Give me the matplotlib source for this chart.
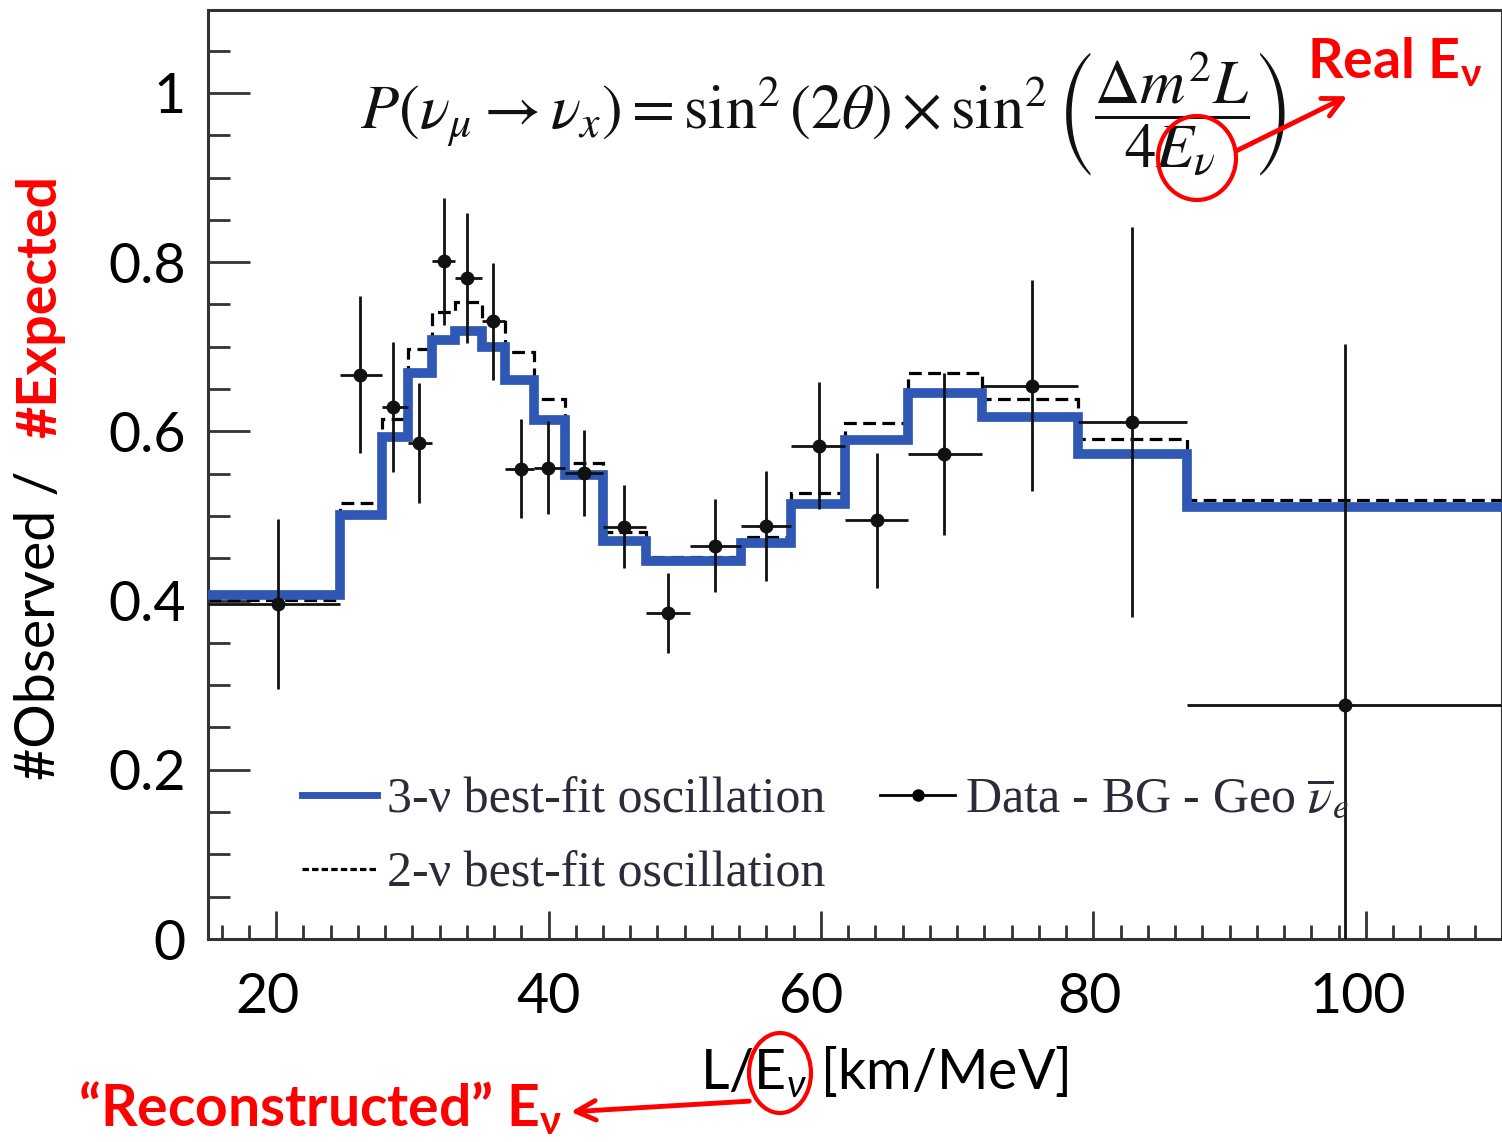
import matplotlib
matplotlib.use("Agg")
import numpy as np
import matplotlib.pyplot as plt
import matplotlib.transforms as mtransforms
from matplotlib.lines import Line2D
from matplotlib.patches import Ellipse

plt.rcParams['mathtext.fontset'] = 'custom'
plt.rcParams['mathtext.rm'] = 'Lato'
plt.rcParams['mathtext.it'] = 'Lato:italic'
plt.rcParams['mathtext.bf'] = 'Lato:bold'

# L/E binning (km/MeV)
bin_edges = [15, 24.7, 27.8, 29.7, 31.45, 33.1, 35.1, 36.8, 38.9, 41.2, 44.0,
             47.15, 50.4, 54.1, 57.8, 61.75, 66.4, 71.8, 78.9, 86.85, 110.15]

# best-fit oscillation expectations per bin
fit_3nu = [0.407, 0.501, 0.593, 0.669, 0.708, 0.719, 0.700, 0.661, 0.613, 0.548,
           0.470, 0.447, 0.447, 0.468, 0.514, 0.590, 0.645, 0.617, 0.573, 0.510]
fit_2nu = [0.401, 0.515, 0.615, 0.697, 0.741, 0.753, 0.732, 0.694, 0.638, 0.563,
           0.481, 0.452, 0.452, 0.475, 0.527, 0.610, 0.669, 0.638, 0.591, 0.519]

# data - BG - geo antineutrinos
data_x = [20.15, 26.16, 28.58, 30.49, 32.33, 34.01, 35.92, 37.97, 39.96, 42.60,
          45.53, 48.76, 52.21, 55.95, 59.84, 64.09, 69.01, 75.47, 82.80, 98.50]
data_y = [0.396, 0.667, 0.629, 0.586, 0.801, 0.781, 0.730, 0.556, 0.557, 0.551,
          0.487, 0.385, 0.465, 0.488, 0.583, 0.495, 0.573, 0.654, 0.611, 0.277]
data_err = [0.100, 0.093, 0.077, 0.071, 0.075, 0.077, 0.069, 0.059, 0.055, 0.051,
            0.049, 0.047, 0.055, 0.065, 0.075, 0.080, 0.096, 0.125, 0.231, 0.426]

x_ticks = [20, 40, 60, 80, 100]
y_ticks = [0, 0.2, 0.4, 0.6, 0.8, 1]
y_tick_labels = ['0', '0.2', '0.4', '0.6', '0.8', '1']

blue = '#2f58b5'
red = '#ff0000'
W, H = 1502, 1142

fig = plt.figure(figsize=(W / 100, H / 100), dpi=100)
ax = fig.add_axes([208 / W, 1 - 939 / H, 1 - 208 / W, (939 - 10) / H])

edges = np.array(bin_edges)
ax.stairs(fit_2nu, edges, color='black', lw=2.3, linestyle=(0, (4, 2)), zorder=2, baseline=None)
ax.stairs(fit_3nu, edges, color=blue, lw=7, zorder=3, baseline=None)

lo = np.array(data_x) - edges[:-1]
hi = edges[1:] - np.array(data_x)
ax.errorbar(data_x, data_y, yerr=data_err, xerr=[lo, hi], fmt='o', color='#111111',
            ms=9, elinewidth=2, capsize=0, zorder=4)

ax.set_xlim(15, 110)
ax.set_ylim(0, 1.098)

ax.set_xticks(x_ticks)
ax.set_xticks(np.arange(16, 111, 2), minor=True)
ax.set_yticks(y_ticks)
ax.set_yticklabels(y_tick_labels)
ax.set_yticks(np.arange(0, 1.1, 0.05), minor=True)

for side in ['left', 'bottom', 'top', 'right']:
    ax.spines[side].set_linewidth(2.2)
    ax.spines[side].set_color('#333333')

ax.tick_params(axis='y', which='major', direction='in', length=30, width=2, color='#333333',
               pad=16, labelsize=40)
ax.tick_params(axis='y', which='minor', direction='in', length=16, width=2, color='#333333')
ax.tick_params(axis='x', which='major', direction='in', length=20, width=2, color='#333333',
               pad=24, labelsize=40)
ax.tick_params(axis='x', which='minor', direction='in', length=10, width=2, color='#333333')
for lab in ax.get_xticklabels() + ax.get_yticklabels():
    lab.set_family('Lato')
# nudge the x labels a little left of their ticks
for lab, dx in zip(ax.get_xticklabels(), [-9, 0, -10, -4, -8]):
    lab.set_transform(lab.get_transform() + mtransforms.Affine2D().translate(dx, 0))

# formula
ax.text(0.475, 0.888,
        r'$P\left(\nu_\mu \rightarrow \nu_x\right) = \sin^2\left(2\theta\right)\times\sin^2\left(\dfrac{\Delta m^2 L}{4E_\nu}\right)$',
        transform=ax.transAxes, ha='center', va='center', fontsize=45,
        math_fontfamily='stix', color='#111111')

# legend
h3 = Line2D([], [], color=blue, lw=5)
h2 = Line2D([], [], color='black', lw=2.3, linestyle=(0, (2, 1)))
hd = Line2D([], [], color='black', lw=2, marker='o', ms=8)
leg = ax.legend([h3, h2, hd],
                ['3-\u03bd best-fit oscillation', '2-\u03bd best-fit oscillation',
                 r'Data - BG - Geo $\overline{\nu}_e$'],
                ncol=2, loc='upper left', bbox_to_anchor=(257 / W, 1 - 732 / H),
                bbox_transform=fig.transFigure, frameon=False, handlelength=1.5,
                handletextpad=0.2, columnspacing=1.1, labelspacing=0.55,
                prop={'family': 'Liberation Serif', 'size': 36, 'math_fontfamily': 'stix'})
for t in leg.get_texts():
    t.set_color('#2b2b3a')

# axis titles
fig.text(700 / W, 1 - 1072 / H, r'L/E$_\nu$ [km/MeV]', ha='left', va='center',
         fontsize=40, family='Lato')
fig.text(40 / W, 1 - 780 / H, '#Observed / ', rotation=90, ha='center', va='bottom',
         fontsize=40, family='Lato')
fig.text(40 / W, 1 - 175 / H, '#Expected', rotation=90, ha='center', va='top',
         fontsize=40, family='Lato', weight='bold', color=red)

# energy annotations
fig.text(1395 / W, 1 - 62 / H, r'Real E$_{\mathbf{\nu}}$', ha='center', va='center',
         fontsize=40, family='Lato', weight='bold', color=red)
fig.text(78 / W, 1 - 1108 / H, '\u201cReconstructed\u201d ' + r'E$_{\mathbf{\nu}}$', ha='left',
         va='center', fontsize=41, family='Lato', weight='bold', color=red)

for cx, cy, w, h in [(1197, 158, 78, 84), (780, 1073, 62, 80)]:
    e = Ellipse((cx, H - cy), w, h, transform=None, fill=False, edgecolor=red, lw=3)
    e.set_figure(fig)
    fig.patches.append(e)

ax.annotate('', xy=(1350, H - 95), xytext=(1234, H - 152), xycoords='figure pixels',
            textcoords='figure pixels',
            arrowprops=dict(arrowstyle='->', color=red, lw=3.5, mutation_scale=35))
ax.annotate('', xy=(568, H - 1112), xytext=(752, H - 1101), xycoords='figure pixels',
            textcoords='figure pixels',
            arrowprops=dict(arrowstyle='->', color=red, lw=3.5, mutation_scale=35))

fig.savefig('out.png', dpi=100)
